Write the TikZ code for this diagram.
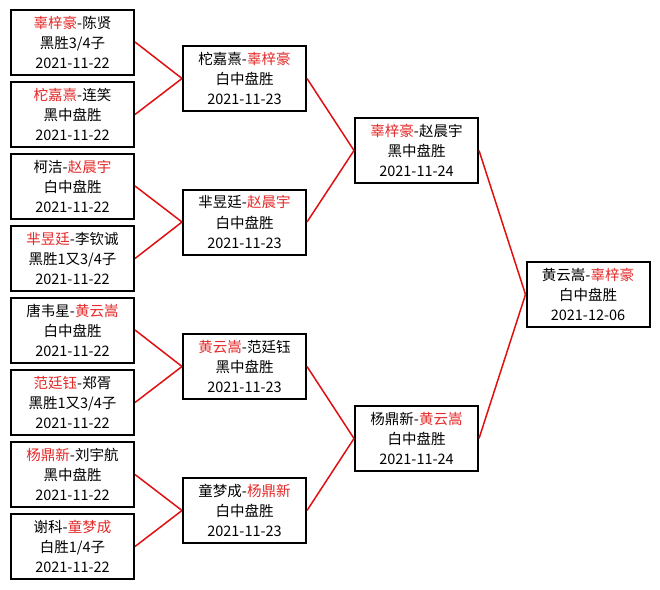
\documentclass[tikz,border=0pt]{standalone}
\usepackage{fontspec}
\setmainfont{Noto Sans CJK SC}
\usepackage{xcolor}
\usepackage{tikz}
\definecolor{WinRed}{HTML}{E52A2A}
\definecolor{LineRed}{HTML}{E01010}
\newcommand{\wn}[1]{\textcolor{WinRed}{#1}}

\begin{document}
\begin{tikzpicture}[x=1pt,y=-1pt,
                    every node/.style={font=\fontsize{14.5}{20}\selectfont},
                    game/.style={draw=black, line width=2pt, fill=white,
                                 minimum width=123pt, minimum height=65pt,
                                 inner sep=0pt, align=center},
                    ln/.style={LineRed, line width=1.5pt}]
  \useasboundingbox[fill=white] (0,0) rectangle (660,589);
  \node[game] (a1) at (72.5,42.0)  {\wn{辜梓豪}-陈贤\\ 黑胜3/4子\\ 2021-11-22};
  \node[game] (a2) at (72.5,114.5) {\wn{柁嘉熹}-连笑\\ 黑中盘胜\\ 2021-11-22};
  \node[game] (a3) at (72.5,186.0) {柯洁-\wn{赵晨宇}\\ 白中盘胜\\ 2021-11-22};
  \node[game] (a4) at (72.5,258.5) {\wn{芈昱廷}-李钦诚\\ 黑胜1又3/4子\\ 2021-11-22};
  \node[game] (a5) at (72.5,330.0) {唐韦星-\wn{黄云嵩}\\ 白中盘胜\\ 2021-11-22};
  \node[game] (a6) at (72.5,402.5) {\wn{范廷钰}-郑胥\\ 黑胜1又3/4子\\ 2021-11-22};
  \node[game] (a7) at (72.5,474.5) {\wn{杨鼎新}-刘宇航\\ 黑中盘胜\\ 2021-11-22};
  \node[game] (a8) at (72.5,546.5) {谢科-\wn{童梦成}\\ 白胜1/4子\\ 2021-11-22};
  \node[game] (b1) at (244.5,78.5)  {柁嘉熹-\wn{辜梓豪}\\ 白中盘胜\\ 2021-11-23};
  \node[game] (b2) at (244.5,222.0) {芈昱廷-\wn{赵晨宇}\\ 白中盘胜\\ 2021-11-23};
  \node[game] (b3) at (244.5,366.5) {\wn{黄云嵩}-范廷钰\\ 黑中盘胜\\ 2021-11-23};
  \node[game] (b4) at (244.5,510.5) {童梦成-\wn{杨鼎新}\\ 白中盘胜\\ 2021-11-23};
  \node[game] (c1) at (416.5,150.5) {\wn{辜梓豪}-赵晨宇\\ 黑中盘胜\\ 2021-11-24};
  \node[game] (c2) at (416.5,438.5) {杨鼎新-\wn{黄云嵩}\\ 白中盘胜\\ 2021-11-24};
  \node[game] (d1) at (588.0,294.5) {黄云嵩-\wn{辜梓豪}\\ 白中盘胜\\ 2021-12-06};
  \draw[ln](a1.east)--(b1.west); \draw[ln](a2.east)--(b1.west);
  \draw[ln](a3.east)--(b2.west); \draw[ln](a4.east)--(b2.west);
  \draw[ln](a5.east)--(b3.west); \draw[ln](a6.east)--(b3.west);
  \draw[ln](a7.east)--(b4.west); \draw[ln](a8.east)--(b4.west);
  \draw[ln](b1.east)--(c1.west); \draw[ln](b2.east)--(c1.west);
  \draw[ln](b3.east)--(c2.west); \draw[ln](b4.east)--(c2.west);
  \draw[ln](c1.east)--(d1.west); \draw[ln](c2.east)--(d1.west);
\end{tikzpicture}
\end{document}
